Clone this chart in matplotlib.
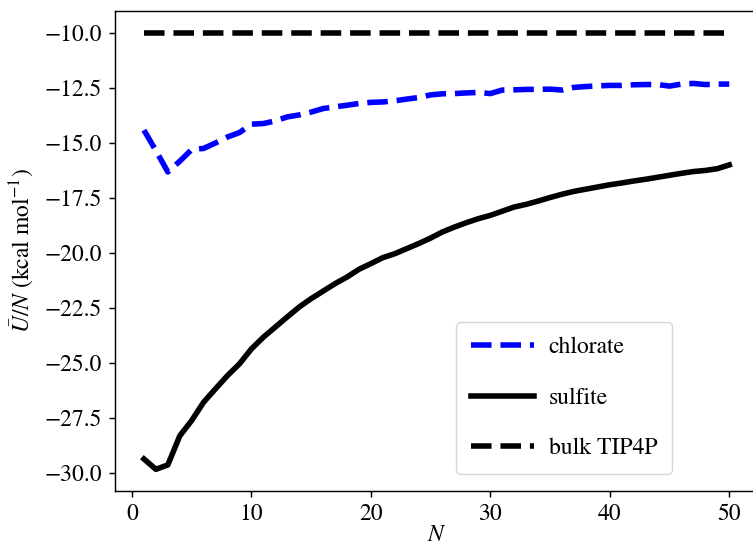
import numpy as np
import matplotlib
matplotlib.use("Agg")
import matplotlib.pyplot as plt

plt.rcParams['font.family'] = 'STIXGeneral'
plt.rcParams['mathtext.fontset'] = 'stix'
plt.rcParams['font.size'] = 17
plt.rcParams['axes.linewidth'] = 1.04
plt.rcParams['xtick.major.size'] = 4.55
plt.rcParams['ytick.major.size'] = 4.55
plt.rcParams['xtick.major.width'] = 1.04
plt.rcParams['ytick.major.width'] = 1.04
plt.rcParams['xtick.major.pad'] = 4.5
plt.rcParams['ytick.major.pad'] = 4.5

# number of water molecules
N = np.arange(1, 51)

# energy per molecule (kcal/mol)
chlorate = [-14.42, -15.35, -16.32, -15.83, -15.30, -15.25, -15.00, -14.73, -14.53, -14.15,
            -14.12, -14.00, -13.82, -13.73, -13.60, -13.44, -13.36, -13.29, -13.21, -13.16,
            -13.14, -13.09, -13.01, -12.94, -12.82, -12.77, -12.76, -12.73, -12.71, -12.76,
            -12.60, -12.59, -12.57, -12.57, -12.56, -12.60, -12.48, -12.44, -12.41, -12.39,
            -12.39, -12.36, -12.35, -12.35, -12.42, -12.33, -12.30, -12.35, -12.33, -12.33]

sulfite = [-29.35, -29.82, -29.62, -28.30, -27.60, -26.77, -26.16, -25.56, -25.03, -24.35,
           -23.82, -23.36, -22.90, -22.45, -22.07, -21.73, -21.39, -21.09, -20.74, -20.48,
           -20.21, -20.03, -19.80, -19.57, -19.32, -19.04, -18.82, -18.62, -18.44, -18.29,
           -18.10, -17.91, -17.79, -17.64, -17.48, -17.33, -17.20, -17.10, -17.00, -16.90,
           -16.82, -16.73, -16.65, -16.56, -16.47, -16.38, -16.30, -16.25, -16.17, -16.00]

bulk_tip4p = -10.0

fig = plt.figure(figsize=(7.53, 5.46), dpi=100)
ax = fig.add_axes([0.1523, 0.1013, 0.855, 0.8786])

ax.plot(N, chlorate, color='blue', linestyle='--', linewidth=4, label='chlorate')
ax.plot(N, sulfite, color='black', linestyle='-', linewidth=4, label='sulfite')
ax.plot(N, [bulk_tip4p] * len(N), color='black', linestyle='--', linewidth=4, label='bulk TIP4P')

ax.set_xlim(-1.45, 52.45)
ax.set_ylim(-30.79, -9.01)
ax.set_xticks([0, 10, 20, 30, 40, 50])
ax.set_yticks(np.arange(-30, -9.9, 2.5))
ax.set_xlabel('$N$', labelpad=0)
ax.set_ylabel(r'$\bar{U}/N$ (kcal mol$^{-1}$)', labelpad=6)

ax.legend(loc='lower left', bbox_to_anchor=(456 / 753, 72 / 546), bbox_transform=fig.transFigure,
          borderaxespad=0, borderpad=0.62, handlelength=2.7, handletextpad=0.6,
          labelspacing=1.23)

fig.savefig('out.png', dpi=100)
